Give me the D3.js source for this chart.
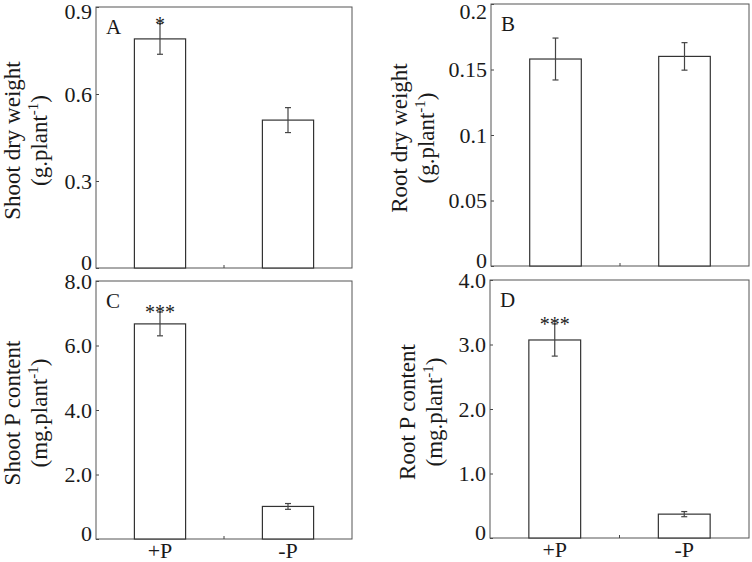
<!DOCTYPE html>
<html>
<head>
<meta charset="utf-8">
<script src="https://cdn.jsdelivr.net/npm/d3@7"></script>
<style>
  body { margin: 0; background: #fff; }
  text { font-family: "Liberation Serif", "Times New Roman", serif; fill: #1a1a1a; }
</style>
</head>
<body>
<div id="chart"></div>
<script>
const categories = ["+P", "-P"];

const shootDW = [0.79, 0.51];
const shootDWErr = [0.053, 0.043];
const rootDW = [0.158, 0.160];
const rootDWErr = [0.016, 0.0105];
const shootP = [6.67, 1.01];
const shootPErr = [0.37, 0.09];
const rootP = [3.07, 0.37];
const rootPErr = [0.25, 0.04];

const ticksA = [0, 0.3, 0.6, 0.9];
const labelsA = ["0", "0.3", "0.6", "0.9"];
const ticksB = [0, 0.05, 0.1, 0.15, 0.2];
const labelsB = ["0", "0.05", "0.1", "0.15", "0.2"];
const ticksC = [0, 2, 4, 6, 8];
const labelsC = ["0", "2.0", "4.0", "6.0", "8.0"];
const ticksD = [0, 1, 2, 3, 4];
const labelsD = ["0", "1.0", "2.0", "3.0", "4.0"];

const sigA = ["*", ""];
const sigB = ["", ""];
const sigC = ["***", ""];
const sigD = ["***", ""];

const W = 752, H = 562;
const svg = d3.select("#chart").append("svg").attr("width", W).attr("height", H);

const panels = [
  { letter: "A", x0: 96, x1: 352, y0: 7, y1: 268, values: shootDW, errs: shootDWErr,
    ticks: ticksA, labels: labelsA, sig: sigA, title: "Shoot dry weight", unit: "(g.plant", tx: 20, xlab: false },
  { letter: "B", x0: 491, x1: 749, y0: 4, y1: 266, values: rootDW, errs: rootDWErr,
    ticks: ticksB, labels: labelsB, sig: sigB, title: "Root dry weight", unit: "(g.plant", tx: 407, xlab: false },
  { letter: "C", x0: 96, x1: 352, y0: 281, y1: 539, values: shootP, errs: shootPErr,
    ticks: ticksC, labels: labelsC, sig: sigC, title: "Shoot P content", unit: "(mg.plant", tx: 20, xlab: true },
  { letter: "D", x0: 490, x1: 749, y0: 280, y1: 538, values: rootP, errs: rootPErr,
    ticks: ticksD, labels: labelsD, sig: sigD, title: "Root P content", unit: "(mg.plant", tx: 415, xlab: true }
];

const lineCol = "#444";

panels.forEach(p => {
  const x = d3.scalePoint().domain(categories).range([p.x0, p.x1]).padding(0.5);
  const y = d3.scaleLinear().domain([0, p.ticks[p.ticks.length - 1]]).range([p.y1, p.y0]);
  const bw = x.step() * 0.4;
  const g = svg.append("g");

  // y axis with inward ticks
  const ax = g.append("g")
    .attr("transform", `translate(${p.x0},0)`)
    .call(d3.axisLeft(y).tickValues(p.ticks).tickFormat((d, i) => p.labels[i])
      .tickSizeInner(-3).tickSizeOuter(0).tickPadding(4));
  ax.select(".domain").remove();
  ax.selectAll(".tick line").attr("stroke", lineCol);
  ax.selectAll(".tick text")
    .attr("font-family", "Liberation Serif")
    .attr("font-size", 22)
    .attr("fill", "#1a1a1a")
    .attr("dy", d => {
      const yy = y(d);
      if (yy < 11) return (11 - yy + 7) + "px";
      if (yy > p.y1 - 6) return (p.y1 - 6 - yy + 7) + "px";
      return "0.32em";
    });

  // frame
  g.append("rect")
    .attr("x", p.x0).attr("y", p.y0)
    .attr("width", p.x1 - p.x0).attr("height", p.y1 - p.y0)
    .attr("fill", "none").attr("stroke", "#555").attr("stroke-width", 1);

  // middle x tick
  const mid = (p.x0 + p.x1) / 2;
  g.append("line").attr("x1", mid).attr("x2", mid).attr("y1", p.y1).attr("y2", p.y1 - 3)
    .attr("stroke", lineCol);

  // bars
  g.selectAll("rect.bar").data(p.values).join("rect")
    .attr("class", "bar")
    .attr("x", (d, i) => x(categories[i]) - bw / 2)
    .attr("y", d => y(d))
    .attr("width", bw)
    .attr("height", d => p.y1 - y(d))
    .attr("fill", "#fff").attr("stroke", "#333").attr("stroke-width", 1.2);

  // error bars
  p.values.forEach((v, i) => {
    const cx = x(categories[i]);
    const top = y(v + p.errs[i]), bot = y(v - p.errs[i]);
    g.append("line").attr("x1", cx).attr("x2", cx).attr("y1", top).attr("y2", bot)
      .attr("stroke", lineCol).attr("stroke-width", 1.2);
    [top, bot].forEach(yy => g.append("line")
      .attr("x1", cx - 3).attr("x2", cx + 3).attr("y1", yy).attr("y2", yy)
      .attr("stroke", lineCol).attr("stroke-width", 1.2));
    if (p.sig[i]) {
      g.append("text").attr("x", cx).attr("y", top + 7)
        .attr("text-anchor", "middle").attr("font-size", 20).attr("fill", "#333")
        .text(p.sig[i]);
    }
  });

  // panel letter
  g.append("text").attr("x", p.x0 + 10).attr("y", p.y0 + 27)
    .attr("font-size", 21).text(p.letter);

  // y title, two lines
  const cy = (p.y0 + p.y1) / 2 + 3;
  g.append("text")
    .attr("transform", `translate(${p.tx},${cy}) rotate(-90)`)
    .attr("text-anchor", "middle").attr("font-size", 23)
    .text(p.title);
  const t2 = g.append("text")
    .attr("transform", `translate(${p.tx + 27},${cy}) rotate(-90)`)
    .attr("text-anchor", "middle").attr("font-size", 23);
  t2.append("tspan").text(p.unit);
  t2.append("tspan").attr("font-size", 15).attr("dy", -9).text("-1");
  t2.append("tspan").attr("dy", 9).text(")");

  // x labels
  if (p.xlab) {
    categories.forEach(c => {
      g.append("text").attr("x", x(c)).attr("y", p.y1 + 19)
        .attr("text-anchor", "middle").attr("font-size", 22).text(c);
    });
  }
});
</script>
</body>
</html>
